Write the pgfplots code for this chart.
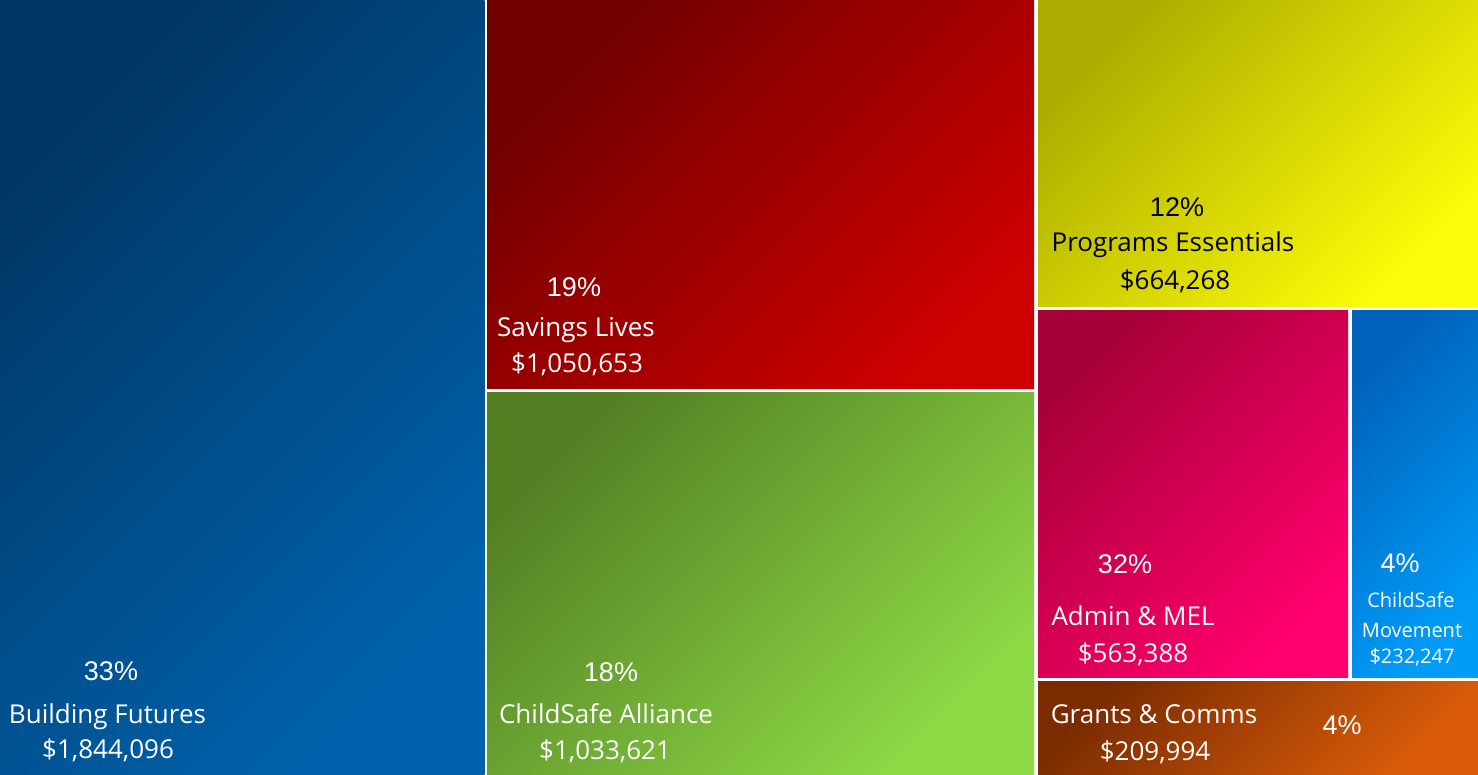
\documentclass[border=0pt]{standalone}
\usepackage{fontspec}
\setmainfont{Open Sans}
\newfontfamily\pctfont{Liberation Sans}
\usepackage{pgfplots}
\pgfplotsset{compat=1.18}

\definecolor{bfA}{RGB}{0,54,100}
\definecolor{bfB}{RGB}{0,98,172}
\definecolor{slA}{RGB}{112,0,0}
\definecolor{slB}{RGB}{206,0,0}
\definecolor{caA}{RGB}{84,128,36}
\definecolor{caB}{RGB}{142,218,70}
\definecolor{peA}{RGB}{172,172,0}
\definecolor{peB}{RGB}{252,252,8}
\definecolor{amA}{RGB}{168,0,56}
\definecolor{amB}{RGB}{255,0,108}
\definecolor{cmA}{RGB}{0,98,186}
\definecolor{cmB}{RGB}{0,156,248}
\definecolor{gcA}{RGB}{122,44,0}
\definecolor{gcB}{RGB}{218,92,10}

\pgfplotsset{
  tile/.style 2 args={draw=none, top color=#1, bottom color=#2, shading angle=45},
}
\tikzset{
  lab/.style={anchor=base, text=white, inner sep=0pt, font=\fontsize{26}{30}\selectfont},
  small/.style={anchor=base, text=white, inner sep=0pt, font=\fontsize{20}{24}\selectfont},
  pct/.style={anchor=base, text=white, inner sep=0pt, font=\pctfont\fontsize{27}{32}\selectfont},
}

\begin{document}
\begin{tikzpicture}
\begin{axis}[
  scale only axis,
  width=1478pt, height=775pt,
  xmin=0, xmax=1478, ymin=0, ymax=775,
  y dir=reverse,
  hide axis,
  clip=false,
]
% white background
\addplot[draw=none, fill=white] coordinates {(0,0) (1478,0) (1478,775) (0,775)} --cycle;

% Building Futures
\addplot[tile={bfA}{bfB}] coordinates {(0,0) (484.5,0) (484.5,775) (0,775)} --cycle;
% Savings Lives
\addplot[tile={slA}{slB}] coordinates {(487,0) (1034,0) (1034,389) (487,389)} --cycle;
% ChildSafe Alliance
\addplot[tile={caA}{caB}] coordinates {(487,393) (1034,393) (1034,775) (487,775)} --cycle;
% Programs Essentials
\addplot[tile={peA}{peB}] coordinates {(1038,0) (1478,0) (1478,307) (1038,307)} --cycle;
% Admin & MEL
\addplot[tile={amA}{amB}] coordinates {(1038,311) (1348,311) (1348,677) (1038,677)} --cycle;
% ChildSafe Movement
\addplot[tile={cmA}{cmB}] coordinates {(1352,311) (1478,311) (1478,677) (1352,677)} --cycle;
% Grants & Comms
\addplot[tile={gcA}{gcB}] coordinates {(1038,681) (1478,681) (1478,775) (1038,775)} --cycle;

% labels
\node[pct] at (axis cs:111,680) {33\%};
\node[lab] at (axis cs:107.5,723) {Building Futures};
\node[lab] at (axis cs:108,758) {\$1,844,096};

\node[pct] at (axis cs:574,297) {19\%};
\node[lab] at (axis cs:576,337) {Savings Lives};
\node[lab] at (axis cs:577,373) {\$1,050,653};

\node[pct] at (axis cs:611,681) {18\%};
\node[lab] at (axis cs:606,723) {ChildSafe Alliance};
\node[lab] at (axis cs:605,759) {\$1,033,621};

\node[pct, text=black] at (axis cs:1177,217) {12\%};
\node[lab, text=black] at (axis cs:1173,252) {Programs Essentials};
\node[lab, text=black] at (axis cs:1175,290) {\$664,268};

\node[pct] at (axis cs:1125,573) {32\%};
\node[lab] at (axis cs:1133,625) {Admin \& MEL};
\node[lab] at (axis cs:1133,662) {\$563,388};

\node[pct] at (axis cs:1400,572) {4\%};
\node[small] at (axis cs:1411,607) {ChildSafe};
\node[small] at (axis cs:1412,637) {Movement};
\node[small] at (axis cs:1412,663) {\$232,247};

\node[lab] at (axis cs:1154,723) {Grants \& Comms};
\node[lab] at (axis cs:1155,760) {\$209,994};
\node[pct] at (axis cs:1342,734) {4\%};
\end{axis}
\end{tikzpicture}
\end{document}
